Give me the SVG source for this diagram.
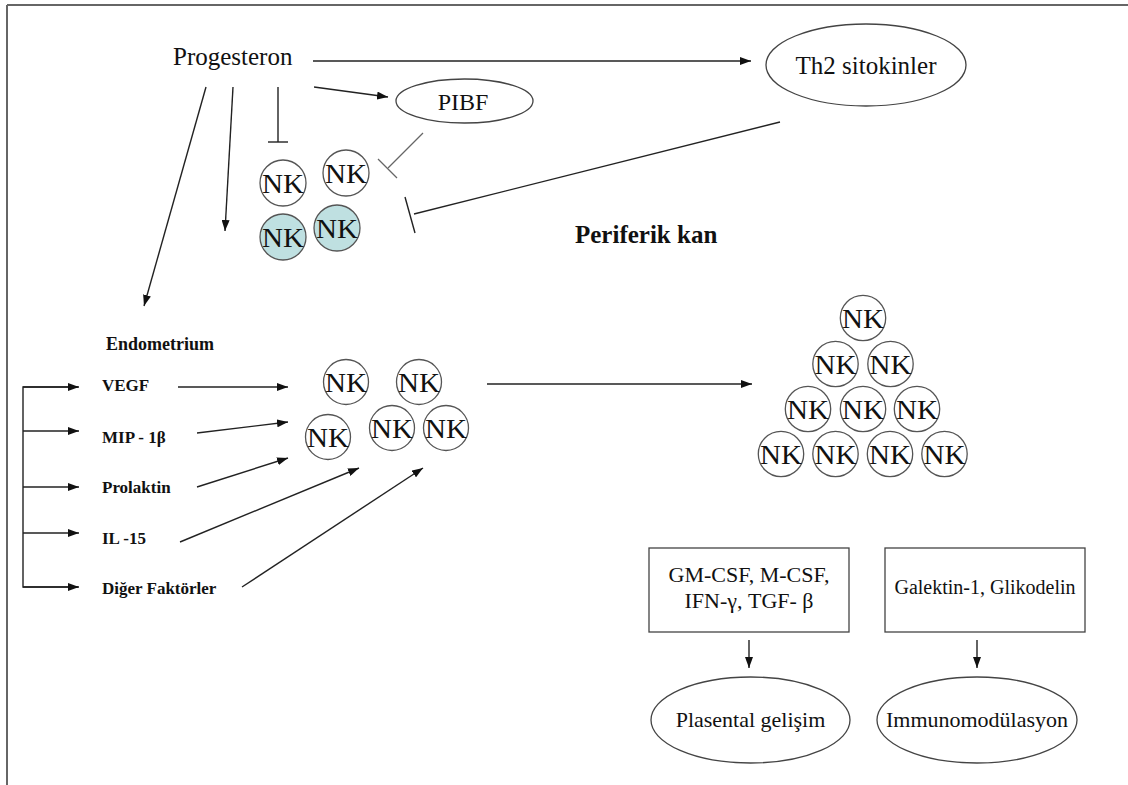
<svg xmlns="http://www.w3.org/2000/svg" width="1128" height="785" viewBox="0 0 1128 785">
<defs>
<marker id="ah" markerUnits="userSpaceOnUse" markerWidth="11" markerHeight="8" refX="11" refY="4" orient="auto">
<path d="M0,0 L11,4 L0,8 z" fill="#111"/>
</marker>
<style>
text{font-family:'Liberation Serif','DejaVu Serif','Noto Serif',serif;fill:#111}
.b{font-weight:bold}
.ln{stroke:#222;stroke-width:1.4;fill:none}
.ar{stroke:#222;stroke-width:1.4;fill:none;marker-end:url(#ah)}
.inh{stroke:#666;stroke-width:1.3;fill:none}
.nk{fill:#fff;stroke:#555;stroke-width:1.3}
.nkt{fill:#bfe0e1;stroke:#555;stroke-width:1.3}
.nktx{font-size:28px;text-anchor:middle}
.sh{fill:#fff;stroke:#444;stroke-width:1.3}
</style>
</defs>
<rect width="1128" height="785" fill="#fff"/>
<g id="frame">
<line x1="7" y1="5" x2="1128" y2="5" stroke="#666" stroke-width="2"/>
<line x1="7" y1="5" x2="7" y2="785" stroke="#666" stroke-width="2"/>
</g>

<g id="connectors">
<line class="ar" x1="313" y1="61" x2="751" y2="61"/>
<line class="ar" x1="314" y1="87" x2="388" y2="97"/>
<line class="ar" x1="206" y1="87" x2="144" y2="306"/>
<line class="ar" x1="233" y1="87" x2="225" y2="231"/>
<line class="ln" x1="278" y1="87" x2="278" y2="142"/>
<line class="ln" x1="268" y1="142" x2="288" y2="142"/>
<line class="inh" x1="423" y1="133" x2="388" y2="168"/>
<line class="inh" x1="378" y1="159" x2="397" y2="178"/>
<line class="ln" x1="780" y1="122" x2="414" y2="214"/>
<line class="ln" x1="405" y1="197" x2="415" y2="233"/>
<polyline class="ln" points="78,387 23,387 23,587 78,587"/>
<line class="ar" x1="23" y1="387" x2="79" y2="387"/>
<line class="ar" x1="23" y1="431" x2="79" y2="431"/>
<line class="ar" x1="23" y1="487" x2="79" y2="487"/>
<line class="ar" x1="23" y1="533" x2="79" y2="533"/>
<line class="ar" x1="23" y1="587" x2="79" y2="587"/>
<line class="ar" x1="178" y1="387" x2="288" y2="387"/>
<line class="ar" x1="197" y1="433" x2="288" y2="422"/>
<line class="ar" x1="197" y1="487" x2="288" y2="458"/>
<line class="ar" x1="180" y1="542" x2="359" y2="468"/>
<line class="ar" x1="242" y1="587" x2="423" y2="468"/>
<line class="ar" x1="487" y1="384" x2="752" y2="384"/>
<line class="ar" x1="749" y1="640" x2="749" y2="668"/>
<line class="ar" x1="977" y1="640" x2="977" y2="668"/>
</g>

<g id="progesteron"><text x="173" y="65" font-size="25">Progesteron</text></g>
<g id="th2"><ellipse class="sh" cx="866" cy="65" rx="100" ry="41"/><text x="866" y="74" font-size="25" text-anchor="middle">Th2 sitokinler</text></g>
<g id="pibf"><ellipse class="sh" cx="464.5" cy="101" rx="68.5" ry="22"/><text x="463" y="110" font-size="24" text-anchor="middle">PIBF</text></g>

<g id="nk-periferik">
<g id="nk-p1"><circle class="nk" cx="283" cy="183" r="23"/><text class="nktx" x="283" y="193" textLength="42" lengthAdjust="spacingAndGlyphs">NK</text></g>
<g id="nk-p2"><circle class="nk" cx="346" cy="173" r="23"/><text class="nktx" x="346" y="183" textLength="42" lengthAdjust="spacingAndGlyphs">NK</text></g>
<g id="nk-p3"><circle class="nkt" cx="283" cy="237" r="23"/><text class="nktx" x="283" y="247" textLength="42" lengthAdjust="spacingAndGlyphs">NK</text></g>
<g id="nk-p4"><circle class="nkt" cx="337" cy="228" r="23"/><text class="nktx" x="337" y="238" textLength="42" lengthAdjust="spacingAndGlyphs">NK</text></g>
</g>

<g id="periferik-kan"><text class="b" x="575" y="243" font-size="25">Periferik kan</text></g>
<g id="endometrium"><text class="b" x="106" y="350" font-size="18">Endometrium</text></g>

<g id="factors">
<text class="b" x="102" y="391" font-size="17">VEGF</text>
<text class="b" x="102" y="443" font-size="17">MIP - 1β</text>
<text class="b" x="102" y="493" font-size="17">Prolaktin</text>
<text class="b" x="102" y="544" font-size="17">IL -15</text>
<text class="b" x="102" y="594" font-size="17">Diğer Faktörler</text>
</g>

<g id="nk-endometrium">
<g id="nk-e1"><circle class="nk" cx="346" cy="382" r="22.5"/><text class="nktx" x="346" y="392" textLength="42" lengthAdjust="spacingAndGlyphs">NK</text></g>
<g id="nk-e2"><circle class="nk" cx="419" cy="382" r="22.5"/><text class="nktx" x="419" y="392" textLength="42" lengthAdjust="spacingAndGlyphs">NK</text></g>
<g id="nk-e3"><circle class="nk" cx="328" cy="437" r="22.5"/><text class="nktx" x="328" y="447" textLength="42" lengthAdjust="spacingAndGlyphs">NK</text></g>
<g id="nk-e4"><circle class="nk" cx="392" cy="428" r="22.5"/><text class="nktx" x="392" y="438" textLength="42" lengthAdjust="spacingAndGlyphs">NK</text></g>
<g id="nk-e5"><circle class="nk" cx="446" cy="428" r="22.5"/><text class="nktx" x="446" y="438" textLength="42" lengthAdjust="spacingAndGlyphs">NK</text></g>
</g>

<g id="nk-pyramid">
<g id="nk-r1"><circle class="nk" cx="863" cy="318" r="22.7"/><text class="nktx" x="863" y="328" textLength="42" lengthAdjust="spacingAndGlyphs">NK</text></g>
<g id="nk-r2a"><circle class="nk" cx="835.5" cy="364" r="22.7"/><text class="nktx" x="835.5" y="374" textLength="42" lengthAdjust="spacingAndGlyphs">NK</text></g>
<g id="nk-r2b"><circle class="nk" cx="890.5" cy="364" r="22.7"/><text class="nktx" x="890.5" y="374" textLength="42" lengthAdjust="spacingAndGlyphs">NK</text></g>
<g id="nk-r3a"><circle class="nk" cx="808" cy="409" r="22.7"/><text class="nktx" x="808" y="419" textLength="42" lengthAdjust="spacingAndGlyphs">NK</text></g>
<g id="nk-r3b"><circle class="nk" cx="863" cy="409" r="22.7"/><text class="nktx" x="863" y="419" textLength="42" lengthAdjust="spacingAndGlyphs">NK</text></g>
<g id="nk-r3c"><circle class="nk" cx="917" cy="409" r="22.7"/><text class="nktx" x="917" y="419" textLength="42" lengthAdjust="spacingAndGlyphs">NK</text></g>
<g id="nk-r4a"><circle class="nk" cx="781" cy="454" r="22.7"/><text class="nktx" x="781" y="464" textLength="42" lengthAdjust="spacingAndGlyphs">NK</text></g>
<g id="nk-r4b"><circle class="nk" cx="835.5" cy="454" r="22.7"/><text class="nktx" x="835.5" y="464" textLength="42" lengthAdjust="spacingAndGlyphs">NK</text></g>
<g id="nk-r4c"><circle class="nk" cx="890" cy="454" r="22.7"/><text class="nktx" x="890" y="464" textLength="42" lengthAdjust="spacingAndGlyphs">NK</text></g>
<g id="nk-r4d"><circle class="nk" cx="944.5" cy="454" r="22.7"/><text class="nktx" x="944.5" y="464" textLength="42" lengthAdjust="spacingAndGlyphs">NK</text></g>
</g>

<g id="box-csf"><rect class="sh" x="649" y="548" width="200" height="84"/>
<text x="749" y="582" font-size="22" text-anchor="middle">GM-CSF, M-CSF,</text>
<text x="749" y="608" font-size="22" text-anchor="middle">IFN-γ, TGF- β</text></g>
<g id="box-galektin"><rect class="sh" x="885" y="548" width="200" height="84"/>
<text x="985" y="594" font-size="20" text-anchor="middle">Galektin-1, Glikodelin</text></g>
<g id="plasental"><ellipse class="sh" cx="750.5" cy="720" rx="99.5" ry="43"/><text x="750.5" y="727" font-size="22" text-anchor="middle">Plasental gelişim</text></g>
<g id="immuno"><ellipse class="sh" cx="977" cy="720" rx="100" ry="43"/><text x="977" y="727" font-size="22" text-anchor="middle">Immunomodülasyon</text></g>
</svg>
